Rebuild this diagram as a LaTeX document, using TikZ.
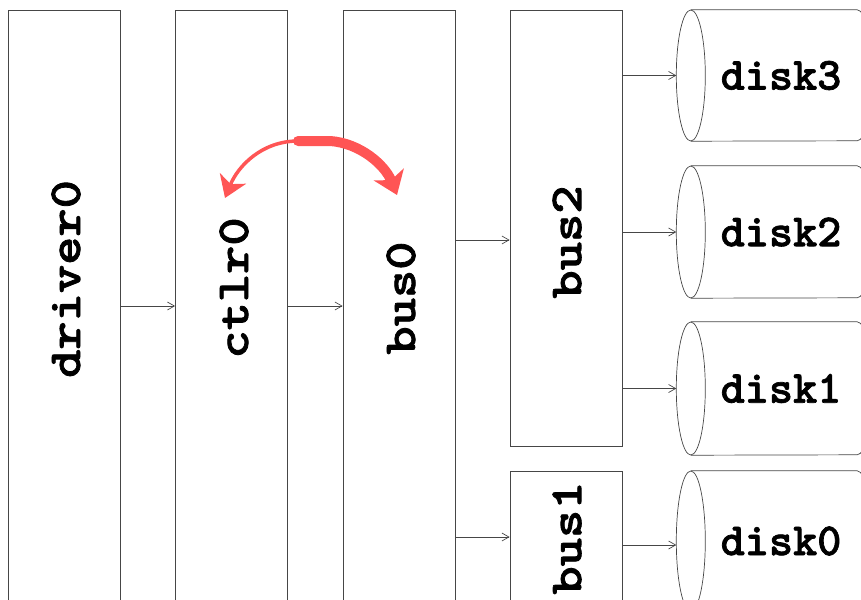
\documentclass[tikz,border=0pt]{standalone}
\usepackage{fontspec}
\usetikzlibrary{arrows.meta}
\newfontfamily\codefont{lmmonolt10-bold.otf}[FakeBold=1.5]
\definecolor{edge}{RGB}{70,70,70}
\definecolor{swapred}{RGB}{255,85,85}

\begin{document}
\begin{tikzpicture}[x=1pt,y=-1pt,
  box/.style={draw=edge, line width=0.8pt, rectangle, minimum width=112pt, inner sep=0pt},
  lbl/.style={font=\fontsize{46}{46}\selectfont\codefont, inner sep=0pt},
  vlbl/.style={lbl, rotate=90},
  disk/.style={lbl, minimum width=180pt},
  link/.style={draw=edge, line width=0.7pt, -{Straight Barb[length=7pt,width=8pt]}},
  can/.style={draw=edge, line width=0.7pt},
  swapline/.style={draw=swapred, line cap=round}]
\useasboundingbox (0,0) rectangle (861,599);
\clip (0,0) rectangle (861,599);

% stacked layers
\node[box, minimum height=640pt] (driver0) at (64,330) {};
\node[box, minimum height=640pt] (ctlr0)   at (231.5,330) {};
\node[box, minimum height=640pt] (bus0)    at (399,330) {};
\node[box, minimum height=436pt] (bus2)    at (566,228) {};
\node[box, minimum height=160pt] (bus1)    at (566,551) {};

\node[vlbl] at (66,279) {\scalebox{1.17}[1]{driver0}};
\node[vlbl] at (234,288) {\scalebox{1.17}[1]{ctlr0}};
\node[vlbl] at (401,298) {\scalebox{1.17}[1]{bus0}};
\node[vlbl] at (567,242) {\scalebox{1.17}[1]{bus2}};
\node[vlbl] at (567,538) {\scalebox{1.17}[1]{bus1}};

% disks: label nodes span the cylinder body
\node[disk, minimum height=131pt] (disk3) at (781,75.5) {disk3};
\node[disk, minimum height=132pt] (disk2) at (781,232) {disk2};
\node[disk, minimum height=133pt] (disk1) at (781,388.5) {disk1};
\node[disk, minimum height=140pt] (disk0) at (781,541) {disk0};

\foreach \d/\r in {disk3/65.5,disk2/66,disk1/66.5,disk0/70}{
  \draw[can] (\d.west) ellipse [x radius=14.5, y radius=\r];
  \draw[can] (\d.north west) -- ([xshift=-14pt]\d.north east)
     arc[start angle=-90, end angle=90, x radius=14.5, y radius=\r]
     -- (\d.south west);
}

% connectors
\draw[link] (driver0.east |- 0,306) -- (ctlr0.west |- 0,306);
\draw[link] (ctlr0.east |- 0,306) -- (bus0.west |- 0,306);
\draw[link] (bus0.east |- 0,240) -- (bus2.west |- 0,240);
\draw[link] (bus0.east |- 0,537) -- (bus1.west |- 0,537);
\draw[link] (bus2.east |- disk3.west) -- ([xshift=-14.5pt]disk3.west);
\draw[link] (bus2.east |- disk2.west) -- ([xshift=-14.5pt]disk2.west);
\draw[link] (bus2.east |- disk1.west) -- ([xshift=-14.5pt]disk1.west);
\draw[link] (bus1.east |- 0,545) -- ([xshift=-14.5pt]disk0.west |- 0,545);

% swap arrow between ctlr0 and bus0
\coordinate (top) at (298,141);
\draw[swapline, line width=3.5pt, -{Stealth[length=21pt,width=28pt,inset=6pt]}]
  (top) .. controls (262,141) and (238,166) .. (225,198);
\draw[swapline, line width=10pt, -{Stealth[length=22pt,width=32pt,inset=6pt]}]
  (top) -- (330,141) .. controls (360,143) and (385,165) .. (397,195);
\end{tikzpicture}
\end{document}
